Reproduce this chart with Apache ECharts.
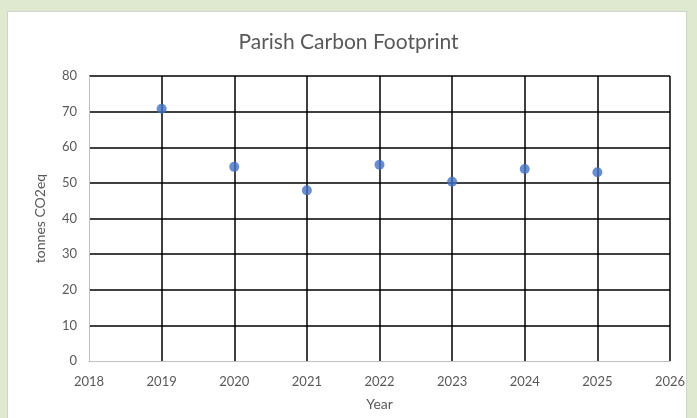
<!DOCTYPE html>
<html>
<head>
<meta charset="utf-8">
<script src="https://cdn.jsdelivr.net/npm/echarts@6/dist/echarts.min.js"></script>
<style>
  html, body { margin: 0; padding: 0; background: #dfe9cf; overflow: hidden; }
  .panel {
    position: absolute; left: 7px; top: 11px; width: 678px; height: 420px;
    background: #fff; border: 1px solid #cfd3c8;
  }
  #chart { position: absolute; left: 0; top: 0; width: 697px; height: 418px; }
</style>
</head>
<body>
<div class="panel"></div>
<div id="chart"></div>
<script>
const years = [2019, 2020, 2021, 2022, 2023, 2024, 2025];
const footprint = [70.8, 54.5, 47.9, 55.1, 50.3, 53.9, 53.0];

const myChart = echarts.init(document.getElementById("chart"));
const font = "Lato, 'Open Sans', sans-serif";
const option = {
    animation: false,
    title: {
        text: "Parish Carbon Footprint",
        left: "center",
        top: 27,
        textStyle: { fontFamily: font, fontSize: 21, fontWeight: "normal", color: "#595959" },
    },
    grid: { left: 89, right: 27, top: 76, bottom: 57 },
    xAxis: {
        type: "value",
        min: 2018,
        max: 2026,
        interval: 1,
        name: "Year",
        nameLocation: "middle",
        nameGap: 36,
        nameTextStyle: { fontFamily: font, fontSize: 14, color: "#595959" },
        axisLine: { show: true, lineStyle: { color: "#bfbfbf", width: 1 } },
        axisTick: { show: false },
        axisLabel: {
            fontFamily: font, fontSize: 13, color: "#595959", margin: 14,
            formatter: (v) => String(v),
        },
        splitLine: { show: true, showMinLine: false, lineStyle: { color: "#000", width: 1.5 } },
    },
    yAxis: {
        type: "value",
        min: 0,
        max: 80,
        interval: 10,
        name: "tonnes CO2eq",
        nameLocation: "middle",
        nameGap: 42,
        nameTextStyle: { fontFamily: font, fontSize: 14, color: "#595959" },
        axisLine: { show: true, lineStyle: { color: "#bfbfbf", width: 1 } },
        axisTick: { show: false },
        axisLabel: { fontFamily: font, fontSize: 13, color: "#595959", margin: 12 },
        splitLine: { show: true, showMinLine: false, lineStyle: { color: "#000", width: 1.5 } },
    },
    series: [
        {
            type: "scatter",
            symbolSize: 10,
            itemStyle: { color: "#4472c4" },
            data: years.map((y, i) => [y, footprint[i]]),
            z: 10,
        },
    ],
};
myChart.setOption(option);
</script>
</body>
</html>
